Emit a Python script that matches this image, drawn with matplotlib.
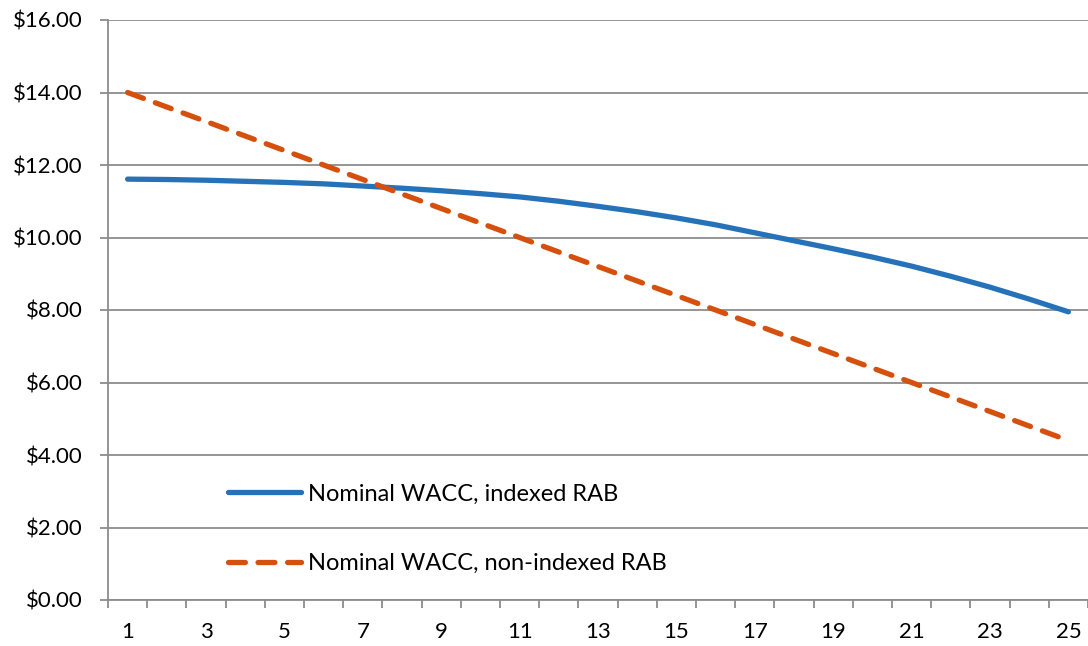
import numpy as np
import matplotlib.pyplot as plt
from matplotlib.ticker import FuncFormatter, MultipleLocator

plt.rcParams['font.family'] = ['Lato', 'DejaVu Sans']

# > Data
years = list(range(1, 26))
indexed = [11.61, 11.60, 11.58, 11.55, 11.52, 11.48, 11.42, 11.36, 11.29, 11.21,
           11.12, 11.00, 10.86, 10.71, 10.54, 10.35, 10.13, 9.91, 9.69, 9.46,
           9.21, 8.93, 8.63, 8.30, 7.95]
non_indexed = [14.0, 13.6, 13.2, 12.8, 12.4, 12.0, 11.6, 11.2, 10.8, 10.4,
               10.0, 9.6, 9.2, 8.8, 8.4, 8.0, 7.6, 7.2, 6.8, 6.4,
               6.0, 5.6, 5.2, 4.8, 4.4]
labels = ['Nominal WACC, indexed RAB', 'Nominal WACC, non-indexed RAB']

fig = plt.figure(figsize=(10.88, 6.46), dpi=100)
ax = fig.add_axes([108 / 1088, 46 / 646, 980 / 1088, 580 / 646])

grey = '#8c8c8c'
ax.plot(years, indexed, color='#2672b9', lw=3.8, solid_capstyle='round', label=labels[0])
ax.plot(years, non_indexed, color='#d5500c', lw=3.8, dashes=(3.2, 2.4),
        dash_capstyle='round', label=labels[1])

ax.set_xlim(0.5, 25.5)
ax.set_ylim(0, 16)
ax.set_xticks(years[::2])
ax.xaxis.set_minor_locator(MultipleLocator(1, offset=0.5))
ax.yaxis.set_major_locator(MultipleLocator(2))
ax.yaxis.set_major_formatter(FuncFormatter(lambda v, _: f'${v:.2f}'))

ax.grid(axis='y', color=grey, lw=1.3)
ax.set_axisbelow(True)
for s in ['top', 'right']:
    ax.spines[s].set_visible(False)
for s in ['left', 'bottom']:
    ax.spines[s].set_color(grey)
    ax.spines[s].set_linewidth(1.3)

ax.tick_params(axis='x', which='major', length=0, pad=16, labelsize=16)
ax.tick_params(axis='x', which='minor', length=6, width=1.3, color=grey, direction='out')
ax.tick_params(axis='y', length=6, width=1.3, color=grey, pad=12, labelsize=16)

ax.legend(loc='lower left', bbox_to_anchor=(0.1224, 0.045), frameon=False,
          fontsize=17, handlelength=3.1, handletextpad=0.3, labelspacing=2.05,
          borderpad=0, borderaxespad=0)

plt.savefig('out.png', dpi=100)
